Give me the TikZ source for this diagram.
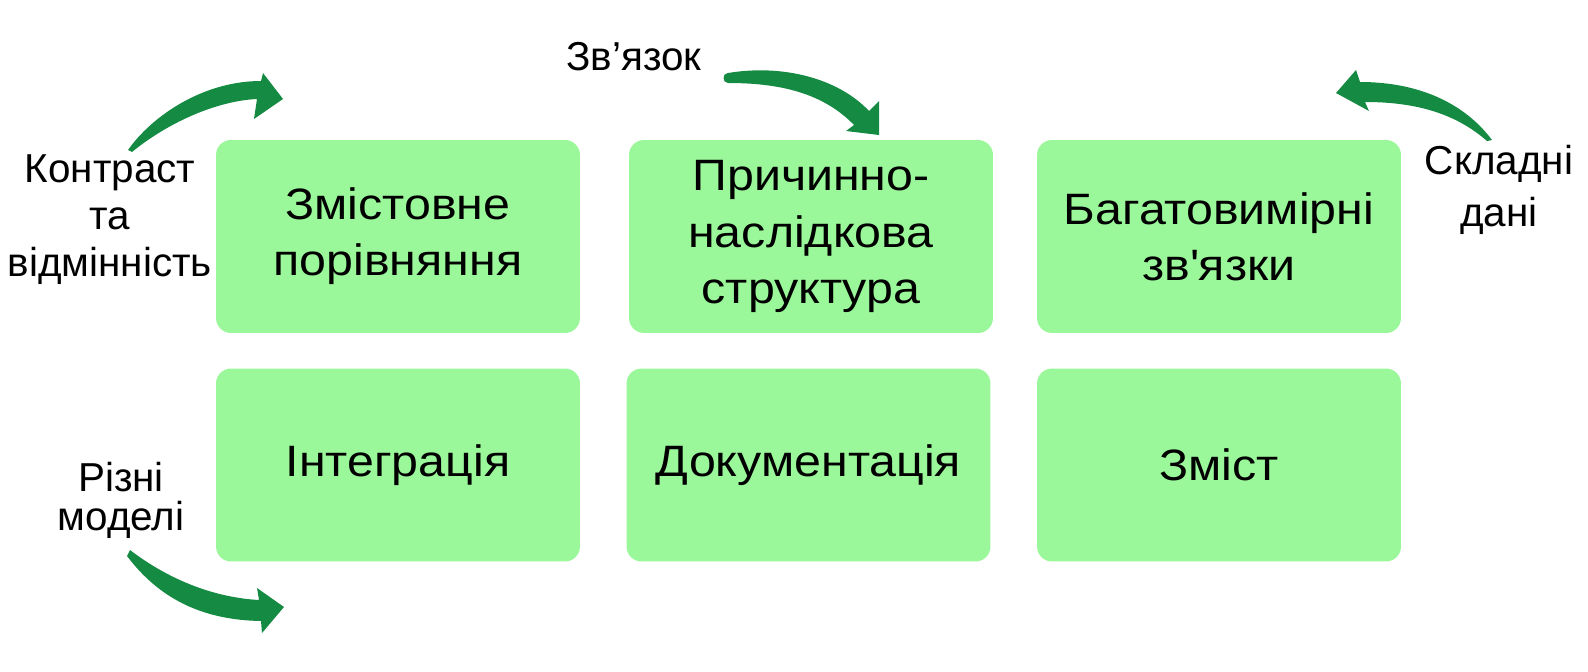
\documentclass[tikz,border=0pt]{standalone}
\usepackage{fontspec}
\setmainfont{Liberation Sans}
\newfontfamily\tilefont[FakeStretch=1.1]{Liberation Sans}
\usetikzlibrary{positioning}
\definecolor{boxgreen}{RGB}{154,248,154}
\definecolor{arrowgreen}{RGB}{20,138,66}

\tikzset{
  tile/.style={fill=boxgreen, rounded corners=0.3cm, minimum width=7.28cm, minimum height=3.86cm, inner sep=0pt, align=center, font=\tilefont\fontsize{25}{32}\selectfont},
  sidelabel/.style={align=center, inner sep=0pt, font=\fontsize{23}{26.7}\selectfont},
  bendarrow/.style={fill=arrowgreen, draw=none}
}

\begin{document}
\begin{tikzpicture}[x=0.02cm, y=-0.02cm]
				\useasboundingbox (0,0) rectangle (1588,672);
				% boxes
				\node[tile] (compare) at (398,236.5) {Змістовне\\порівняння};
				\node[tile] (cause) at (811,236.5) {Причинно-\\наслідкова\\структура};
				\node[tile] (multi) at (1219,236.5) {Багатовимірні\\зв\textquotesingle язки};
				\node[tile] (integr) at (398,465) {Інтеграція};
				\node[tile] (docs) at (808.5,465) {Документація};
				\node[tile] (content) at (1219,465) {Зміст};
				% labels
				\node[sidelabel] (contrast) at (110,220) {Контраст\\та\\відмінність};
				\node[sidelabel] (link) at (634,56.5) {Зв’язок};
				\node[sidelabel, font=\fontsize{23}{30}\selectfont] (complex) at (1499,190) {Складні\\дані};
				\node[sidelabel, font=\fontsize{23}{22.2}\selectfont] (models) at (121,500) {Різні\\моделі};
				% arrows
				\fill[bendarrow] (128,150) .. controls (152,116) and (203,81) .. (261,81) -- (263,73) -- (283,99) -- (254,119) -- (257,99) .. controls (215,101) and (166,124) .. (132,152) -- cycle;
				\fill[bendarrow] (728,73) .. controls (782,64) and (838,78) .. (869,111) -- (879,101) -- (879,135) -- (846,131) -- (854,125) .. controls (823,93) and (780,83) .. (728,83) .. controls (722,83) and (722,73) .. (728,73) -- cycle;
				\fill[bendarrow] (1492,140) .. controls (1465,104) and (1420,82) .. (1360,82) -- (1356,70) -- (1336,93) -- (1369,111) -- (1365,102) .. controls (1415,102) and (1455,113) .. (1487,141) -- cycle;
				\fill[bendarrow] (130,550) .. controls (160,573) and (205,597) .. (259,600) -- (257,588) -- (284,607) -- (262,633) -- (261,621) .. controls (200,620) and (158,597) .. (127,556) -- cycle;
\end{tikzpicture}
\end{document}
